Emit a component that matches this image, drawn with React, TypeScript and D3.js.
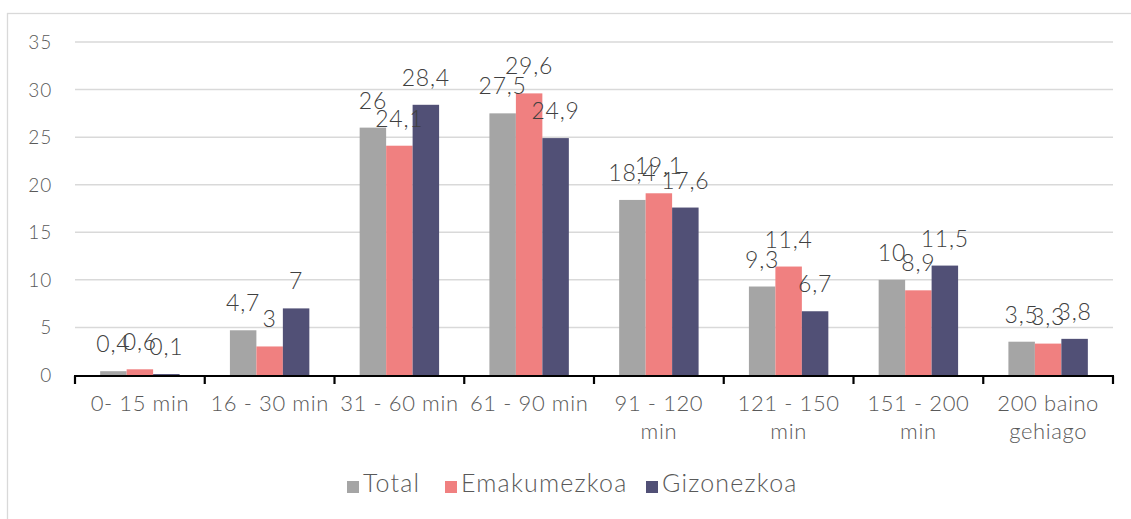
import React, { useEffect, useRef } from 'react';
import * as d3 from 'd3';

const categories = [
    ['0- 15 min'],
    ['16 - 30 min'],
    ['31 - 60 min'],
    ['61 - 90 min'],
    ['91 - 120', 'min'],
    ['121 - 150', 'min'],
    ['151 - 200', 'min'],
    ['200 baino', 'gehiago'],
];
const seriesNames = ['Total', 'Emakumezkoa', 'Gizonezkoa'];
const total = [0.4, 4.7, 26, 27.5, 18.4, 9.3, 10, 3.5];
const emakumezkoa = [0.6, 3, 24.1, 29.6, 19.1, 11.4, 8.9, 3.3];
const gizonezkoa = [0.1, 7, 28.4, 24.9, 17.6, 6.7, 11.5, 3.8];
const yTicks = [0, 5, 10, 15, 20, 25, 30, 35];
const colors = ['#A5A5A5', '#F08080', '#515076'];

export default function App() {
    const ref = useRef<SVGSVGElement | null>(null);
    useEffect(() => {
        const svg = d3.select(ref.current);
        svg.selectAll('*').remove();
        const width = 1131, height = 519;
        const font = 'Lato, "Noto Sans", sans-serif';
        const textColor = '#595959';
        const series = [total, emakumezkoa, gizonezkoa];

        // chart area border
        svg.append('rect')
            .attr('x', 7.5).attr('y', 13.5)
            .attr('width', width + 10).attr('height', height + 10)
            .attr('fill', '#fff').attr('stroke', '#D9D9D9').attr('stroke-width', 1.3);

        const x0 = d3.scaleBand<number>().domain(d3.range(categories.length)).range([75, 1113]).paddingInner(0).paddingOuter(0);
        const x1 = d3.scaleBand<number>().domain([0, 1, 2]).range([0, x0.bandwidth()]).paddingInner(0).paddingOuter(0.95);
        const y = d3.scaleLinear().domain([0, 35]).range([375, 42]);

        const grid = svg.append('g');
        grid.selectAll('line').data(yTicks.filter(t => t > 0)).join('line')
            .attr('x1', 75).attr('x2', 1113)
            .attr('y1', d => y(d)).attr('y2', d => y(d))
            .attr('stroke', '#D9D9D9').attr('stroke-width', 1.5);

        svg.append('g').selectAll('text').data(yTicks).join('text')
            .attr('x', 52).attr('y', d => y(d) + 7)
            .attr('text-anchor', 'end')
            .attr('font-family', font).attr('font-weight', 300).attr('font-size', 19)
            .attr('letter-spacing', 0.8)
            .attr('fill', textColor)
            .text(d => d);

        const groups = svg.append('g').selectAll('g').data(categories).join('g')
            .attr('transform', (_, i) => `translate(${x0(i)},0)`);

        groups.selectAll('rect').data((_, i) => series.map((s, k) => ({ k, v: s[i] }))).join('rect')
            .attr('x', d => x1(d.k)!)
            .attr('y', d => y(d.v))
            .attr('width', x1.bandwidth())
            .attr('height', d => y(0) - y(d.v))
            .attr('fill', d => colors[d.k]);

        groups.selectAll('text.lbl').data((_, i) => series.map((s, k) => ({ k, v: s[i] }))).join('text')
            .attr('class', 'lbl')
            .attr('x', d => x1(d.k)! + x1.bandwidth() / 2)
            .attr('y', d => y(d.v) - 19)
            .attr('text-anchor', 'middle')
            .attr('font-family', font).attr('font-weight', 300).attr('font-size', 23)
            .attr('letter-spacing', 0.8)
            .attr('fill', '#404040')
            .text(d => String(d.v).replace('.', ','));

        // axis line and ticks
        const axis = svg.append('g');
        axis.append('line').attr('x1', 74).attr('x2', 1114).attr('y1', 376).attr('y2', 376)
            .attr('stroke', '#000').attr('stroke-width', 2.2);
        const bounds = d3.range(categories.length + 1).map(i => 75 + i * x0.step());
        axis.selectAll('line.tick').data(bounds).join('line').attr('class', 'tick')
            .attr('x1', d => d).attr('x2', d => d).attr('y1', 376).attr('y2', 384)
            .attr('stroke', '#000').attr('stroke-width', 2.2);

        groups.selectAll('text.cat').data(d => d).join('text')
            .attr('class', 'cat')
            .attr('x', x0.bandwidth() / 2)
            .attr('y', (_, j) => 411 + j * 28)
            .attr('text-anchor', 'middle')
            .attr('font-family', font).attr('font-weight', 300).attr('font-size', 22)
            .attr('letter-spacing', 0.6)
            .attr('fill', textColor)
            .text(d => d);

        // legend
        const legendX = [347, 445, 646];
        const legend = svg.append('g').selectAll('g').data(seriesNames).join('g')
            .attr('transform', (_, i) => `translate(${legendX[i]},0)`);
        legend.append('rect').attr('x', 0).attr('y', 481).attr('width', 12).attr('height', 12)
            .attr('fill', (_, i) => colors[i]);
        legend.append('text').attr('x', 16).attr('y', 492)
            .attr('font-family', font).attr('font-weight', 300).attr('font-size', 25)
            .attr('letter-spacing', 1.2)
            .attr('fill', textColor)
            .text(d => d);
    }, []);
    return (
        <svg ref={ref} width={1131} height={519}
            style={{ position: 'absolute', left: 0, top: 0, display: 'block' }} />
    );
}
